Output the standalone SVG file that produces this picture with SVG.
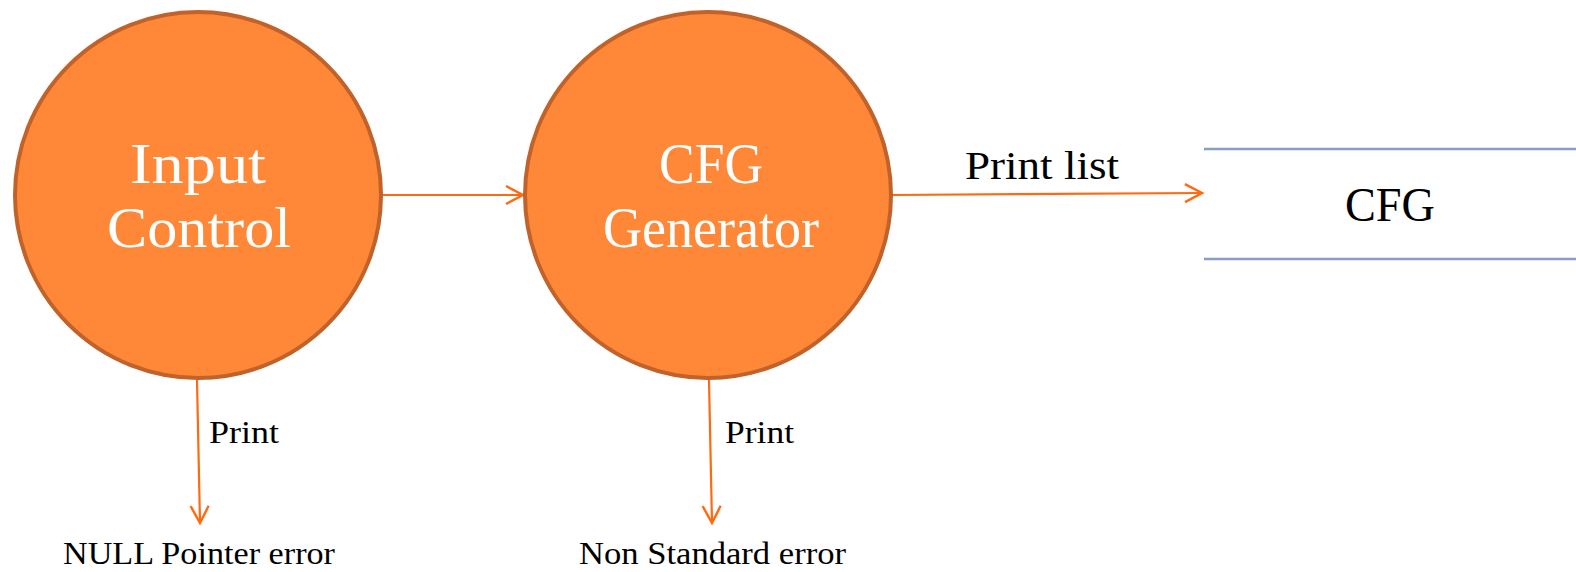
<svg xmlns="http://www.w3.org/2000/svg" width="1576" height="572" viewBox="0 0 1576 572">
<style>
.proc{fill:#FF8838;stroke:#C0622A;stroke-width:4}
.ptxt{font-family:"Liberation Serif","DejaVu Serif",serif;font-size:58px;fill:#FFFFFF;text-anchor:start}
.lbl{font-family:"Liberation Serif","DejaVu Serif",serif;fill:#000000}
.conn{fill:none;stroke:#FF6A10;stroke-width:2.2}
.store{stroke:#8D9CC4;stroke-width:2.5}
</style>
<defs>
<marker id="arr" markerUnits="userSpaceOnUse" markerWidth="24" markerHeight="24" viewBox="-20 -12 24 24" refX="0" refY="0" orient="auto">
<path d="M-17,-9 L0,0 L-17,9" fill="none" stroke="#FF6A10" stroke-width="2.4"/>
</marker>
</defs>
<g id="connectors">
<line class="conn" x1="383" y1="195" x2="523" y2="195" marker-end="url(#arr)"/>
<line class="conn" x1="892" y1="195" x2="1202" y2="193" marker-end="url(#arr)"/>
<line class="conn" x1="197" y1="380" x2="200" y2="523" marker-end="url(#arr)"/>
<line class="conn" x1="709" y1="380" x2="712" y2="523" marker-end="url(#arr)"/>
<text class="lbl" x="965" y="179" font-size="40" textLength="154" lengthAdjust="spacingAndGlyphs">Print list</text>
<text class="lbl" x="209" y="443" font-size="32" textLength="70" lengthAdjust="spacingAndGlyphs">Print</text>
<text class="lbl" x="725" y="443" font-size="32" textLength="69" lengthAdjust="spacingAndGlyphs">Print</text>
</g>
<g id="input-control">
<circle class="proc" cx="198" cy="195" r="183"/>
<text class="ptxt" x="130" y="183" textLength="136" lengthAdjust="spacingAndGlyphs">Input</text>
<text class="ptxt" x="107" y="247" textLength="184" lengthAdjust="spacingAndGlyphs">Control</text>
</g>
<g id="cfg-generator">
<circle class="proc" cx="708" cy="195" r="183"/>
<text class="ptxt" x="659" y="183" textLength="104" lengthAdjust="spacingAndGlyphs">CFG</text>
<text class="ptxt" x="603" y="247" textLength="216" lengthAdjust="spacingAndGlyphs">Generator</text>
</g>
<g id="cfg-store">
<line class="store" x1="1204" y1="149" x2="1576" y2="149"/>
<line class="store" x1="1204" y1="259" x2="1576" y2="259"/>
<text class="lbl" x="1345" y="221" font-size="48" textLength="90" lengthAdjust="spacingAndGlyphs">CFG</text>
</g>
<g id="null-pointer-error">
<text class="lbl" x="63" y="564" font-size="32" textLength="272" lengthAdjust="spacingAndGlyphs">NULL Pointer error</text>
</g>
<g id="non-standard-error">
<text class="lbl" x="579" y="564" font-size="32" textLength="267" lengthAdjust="spacingAndGlyphs">Non Standard error</text>
</g>
</svg>
